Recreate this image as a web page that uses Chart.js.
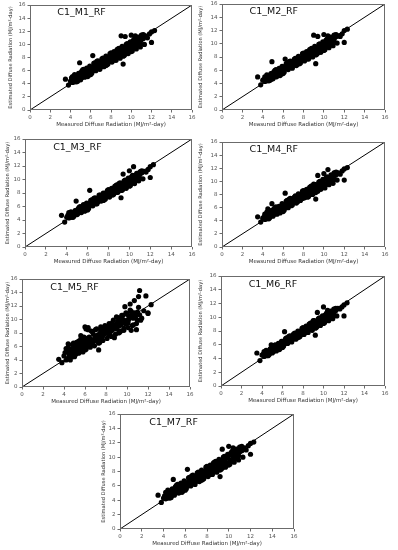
<!DOCTYPE html>
<html>
<head>
<meta charset="utf-8">
<script src="https://cdn.jsdelivr.net/npm/chart.js@4.4.0/dist/chart.umd.min.js"></script>
<style>
  body { margin: 0; background: #fff; width: 398px; height: 550px; position: relative; overflow: hidden; }
  canvas { position: absolute; }
</style>
</head>
<body>
<script>
// measured diffuse radiation (shared x values for every panel)
const measured = [
  3.5, 3.8, 4.0, 4.1, 4.2, 4.3, 4.4, 4.4, 4.5, 4.6,
  4.7, 4.8, 4.9, 4.9, 5.0, 5.1, 5.2, 5.2, 5.3, 5.4,
  5.5, 5.6, 5.6, 5.7, 5.8, 5.9, 6.0, 6.0, 6.1, 6.2,
  6.3, 6.3, 6.4, 6.5, 6.6, 6.7, 6.8, 6.9, 7.0, 7.1,
  7.2, 7.3, 7.4, 7.5, 7.6, 7.7, 7.8, 7.9, 8.0, 8.1,
  8.2, 8.3, 8.4, 8.5, 8.6, 8.7, 8.8, 8.9, 9.0, 9.1,
  9.2, 9.3, 9.4, 9.5, 9.6, 9.7, 9.8, 9.9, 10.0, 10.1,
  10.2, 10.3, 10.4, 10.5, 10.6, 10.7, 10.8, 10.9, 11.0, 11.1,
  11.2, 11.4, 11.6, 11.8, 12.0, 12.3, 4.5, 5.0, 5.5, 6.1,
  6.6, 7.0, 7.4, 7.9, 8.3, 8.8, 9.2, 9.6, 10.1, 10.6,
  11.0, 9.0, 9.4, 10.0, 10.4, 4.9, 6.2, 7.5, 9.2, 12.0,
  4.2, 4.6, 4.8, 5.0, 5.2, 5.4, 5.6, 5.8, 5.9, 6.1,
  6.3, 6.5, 6.7, 6.9, 7.1, 7.3, 7.5, 7.7, 7.9, 8.1,
  8.3, 8.5, 8.7, 8.9, 9.1, 9.3, 9.5, 9.7, 9.9, 10.1,
  10.3, 10.5, 10.7, 10.9, 11.1, 11.3, 4.4, 5.1, 5.7, 6.4,
  6.8, 7.2, 7.6, 8.0, 8.4, 8.8, 9.2, 9.6, 10.0, 10.4,
  10.8, 11.2, 4.7, 5.3, 6.0, 6.6, 7.4, 8.6, 9.4, 10.2
];

// estimated diffuse radiation per model
const estM1 = [
  4.7, 3.8, 4.4, 4.9, 4.2, 4.6, 5.1, 4.3, 4.8, 4.5,
  5.3, 4.7, 5.0, 5.6, 5.2, 4.9, 5.8, 5.4, 5.1, 5.9,
  5.6, 6.1, 5.4, 5.9, 6.3, 5.8, 6.5, 5.7, 6.2, 6.0,
  6.6, 6.1, 6.9, 6.4, 7.0, 6.5, 7.3, 6.7, 7.4, 6.9,
  7.6, 7.0, 7.3, 7.8, 7.2, 7.9, 7.5, 8.2, 7.7, 8.3,
  8.3, 7.8, 8.6, 8.1, 8.9, 8.4, 8.2, 9.0, 8.6, 8.8,
  9.2, 8.7, 9.4, 9.0, 9.7, 9.3, 9.9, 9.1, 10.2, 9.6,
  10.4, 9.5, 10.1, 10.6, 9.8, 10.3, 10.9, 10.2, 10.7, 11.0,
  10.9, 11.3, 11.0, 11.6, 11.9, 12.1, 4.4, 5.5, 5.3, 6.4,
  6.8, 6.6, 7.7, 7.4, 8.5, 8.0, 9.5, 8.8, 9.4, 10.0,
  11.4, 11.3, 11.2, 11.4, 11.3, 7.2, 8.3, 6.8, 7.0, 10.3,
  5.1, 4.3, 5.6, 4.6, 6.1, 5.0, 6.4, 5.3, 6.7, 5.6,
  7.1, 6.0, 7.5, 6.2, 7.8, 6.6, 8.2, 7.0, 8.6, 7.3,
  8.9, 7.6, 9.3, 7.9, 9.7, 8.3, 10.0, 8.6, 10.4, 9.0,
  10.8, 9.3, 11.1, 9.6, 11.4, 10.0, 5.4, 5.9, 5.1, 7.2,
  6.3, 7.9, 6.9, 8.7, 7.6, 9.4, 8.2, 10.1, 8.9, 10.7,
  9.8, 11.5, 4.4, 6.2, 5.4, 7.4, 6.8, 9.2, 8.5, 10.6
];
const estM2 = [
  5.0, 3.8, 4.5, 4.6, 4.3, 4.8, 4.9, 4.4, 4.6, 4.7,
  5.1, 4.6, 5.2, 5.5, 5.0, 5.1, 5.6, 5.3, 5.0, 5.7,
  5.8, 6.0, 5.5, 5.7, 6.2, 6.0, 6.4, 5.8, 6.1, 6.3,
  6.5, 6.2, 6.8, 6.6, 6.9, 6.7, 7.2, 6.8, 7.3, 7.0,
  7.4, 7.1, 7.5, 7.7, 7.3, 7.8, 7.6, 8.0, 7.8, 8.2,
  8.4, 7.9, 8.5, 8.2, 8.7, 8.5, 8.4, 8.9, 8.7, 9.0,
  9.1, 8.8, 9.3, 9.2, 9.6, 9.4, 9.8, 9.3, 10.0, 9.7,
  10.3, 9.6, 10.2, 10.5, 9.9, 10.4, 10.8, 10.3, 10.6, 11.0,
  11.1, 11.2, 11.1, 11.5, 12.0, 12.2, 4.5, 5.4, 5.4, 6.5,
  6.9, 6.7, 7.6, 7.5, 8.4, 8.1, 9.4, 8.9, 9.5, 10.1,
  11.3, 11.3, 11.1, 11.4, 11.2, 7.3, 7.7, 7.0, 7.0, 10.2,
  5.0, 4.4, 5.5, 4.7, 6.0, 5.1, 6.3, 5.4, 6.6, 5.7,
  7.0, 6.1, 7.4, 6.3, 7.7, 6.7, 8.1, 7.1, 8.5, 7.4,
  8.8, 7.7, 9.2, 8.0, 9.6, 8.4, 9.9, 8.7, 10.3, 9.1,
  10.7, 9.4, 11.0, 9.7, 11.3, 10.1, 5.3, 5.8, 5.2, 7.1,
  6.4, 7.8, 7.0, 8.6, 7.7, 9.3, 8.3, 10.0, 9.0, 10.6,
  9.9, 11.4, 4.5, 6.1, 5.5, 7.3, 6.9, 9.1, 8.6, 10.5
];
const estM3 = [
  4.7, 3.7, 4.4, 4.7, 4.3, 4.9, 4.6, 4.4, 4.8, 4.5,
  5.0, 4.8, 5.1, 5.4, 5.2, 5.0, 5.7, 5.2, 5.3, 5.8,
  5.7, 6.0, 5.5, 6.0, 6.2, 5.9, 6.3, 5.8, 6.4, 6.1,
  6.6, 6.3, 6.8, 6.5, 7.1, 6.6, 7.2, 6.8, 7.3, 7.1,
  7.5, 7.1, 7.4, 7.7, 7.3, 8.0, 7.6, 8.1, 7.8, 8.3,
  8.2, 7.9, 8.5, 8.2, 8.8, 8.6, 8.3, 9.1, 8.8, 9.0,
  9.3, 8.9, 9.5, 9.1, 9.6, 9.4, 9.8, 9.3, 10.1, 9.7,
  10.2, 9.6, 10.3, 10.6, 9.9, 10.4, 10.8, 10.2, 10.7, 11.0,
  11.0, 11.2, 11.1, 11.5, 11.9, 12.2, 4.5, 5.3, 5.4, 6.3,
  6.9, 6.7, 7.7, 7.5, 8.3, 8.1, 9.4, 8.9, 9.4, 9.9,
  11.1, 9.4, 10.8, 11.3, 11.9, 6.8, 8.4, 6.9, 7.3, 10.3,
  5.1, 4.4, 5.4, 4.8, 5.9, 5.1, 6.3, 5.4, 6.5, 5.7,
  6.9, 6.1, 7.3, 6.4, 7.7, 6.8, 8.0, 7.1, 8.4, 7.4,
  8.7, 7.8, 9.1, 8.1, 9.5, 8.4, 9.8, 8.7, 10.2, 9.1,
  10.6, 9.4, 10.9, 9.8, 11.2, 10.1, 5.2, 5.7, 5.3, 7.0,
  6.4, 7.7, 7.0, 8.5, 7.7, 9.2, 8.4, 9.9, 9.0, 10.5,
  9.9, 11.3, 4.6, 6.0, 5.5, 7.2, 6.9, 9.0, 8.6, 10.4
];
const estM4 = [
  4.6, 3.8, 4.4, 4.5, 4.2, 4.8, 4.7, 4.3, 4.9, 4.6,
  5.2, 4.8, 5.0, 5.6, 5.3, 5.0, 5.7, 5.4, 5.1, 5.8,
  5.7, 6.1, 5.5, 5.9, 6.2, 5.9, 6.4, 5.8, 6.3, 6.0,
  6.7, 6.2, 6.9, 6.5, 7.0, 6.6, 7.3, 6.8, 7.4, 7.0,
  7.5, 7.1, 7.4, 7.8, 7.3, 7.9, 7.6, 8.2, 7.8, 8.3,
  8.4, 7.9, 8.6, 8.2, 8.9, 8.5, 8.3, 9.0, 8.7, 8.9,
  9.3, 8.8, 9.4, 9.1, 9.7, 9.4, 9.9, 9.2, 10.2, 9.6,
  10.4, 9.6, 10.2, 10.6, 9.9, 10.3, 10.9, 10.2, 10.7, 11.1,
  11.0, 11.3, 11.1, 11.6, 11.9, 12.1, 5.8, 5.4, 5.3, 6.4,
  6.8, 6.7, 7.7, 7.4, 8.5, 8.0, 9.5, 8.8, 9.4, 10.0,
  11.3, 9.6, 10.9, 11.2, 11.8, 6.6, 8.2, 7.0, 7.3, 10.2,
  5.0, 4.3, 5.5, 4.7, 6.0, 5.0, 6.2, 5.4, 6.6, 5.6,
  7.0, 6.0, 7.4, 6.4, 7.6, 6.7, 8.1, 7.1, 8.5, 7.5,
  8.8, 7.7, 9.2, 8.0, 9.5, 8.5, 9.9, 8.8, 10.3, 9.0,
  10.7, 9.5, 11.0, 9.7, 11.3, 10.2, 5.3, 5.8, 5.2, 7.1,
  6.3, 7.8, 7.1, 8.6, 7.6, 9.3, 8.3, 10.0, 9.1, 10.6,
  9.8, 11.4, 4.5, 6.1, 5.4, 7.3, 6.9, 9.1, 8.5, 10.5
];
const estM5 = [
  4.1, 3.6, 4.6, 5.1, 4.0, 5.4, 6.4, 4.3, 5.0, 4.4,
  5.6, 4.5, 6.5, 5.2, 5.9, 4.8, 6.2, 5.0, 5.7, 6.8,
  5.3, 6.4, 7.6, 5.8, 6.9, 6.0, 8.9, 5.5, 8.6, 6.6,
  8.8, 6.2, 7.4, 6.9, 8.3, 6.5, 7.8, 7.1, 8.5, 6.8,
  7.5, 5.5, 7.9, 7.2, 8.1, 7.6, 8.6, 7.9, 9.0, 8.4,
  8.7, 8.1, 9.0, 8.4, 9.5, 8.8, 7.3, 9.2, 8.6, 9.6,
  9.1, 10.2, 8.3, 9.4, 10.0, 8.7, 11.9, 9.3, 10.8, 9.8,
  10.5, 12.3, 8.4, 10.9, 9.2, 12.8, 10.3, 8.5, 11.1, 13.4,
  14.3, 10.2, 11.3, 13.5, 10.9, 12.2, 4.8, 5.4, 6.0, 7.2,
  7.0, 7.4, 6.6, 8.8, 7.7, 9.1, 8.0, 10.6, 9.5, 10.2,
  9.9, 10.4, 9.7, 10.8, 11.2, 4.6, 6.1, 8.3, 9.6, 11.0,
  5.7, 4.0, 6.3, 4.5, 6.6, 5.0, 7.1, 5.2, 7.4, 5.6,
  8.5, 5.9, 8.2, 6.1, 8.6, 6.5, 8.9, 6.9, 9.1, 7.2,
  9.4, 7.5, 9.9, 7.8, 10.3, 8.1, 10.6, 8.4, 11.0, 8.8,
  11.4, 9.1, 11.0, 9.4, 11.8, 9.9, 5.9, 6.0, 6.2, 7.3,
  6.9, 7.7, 7.4, 8.3, 8.1, 8.9, 9.0, 9.6, 9.9, 10.4,
  10.6, 10.7, 5.2, 5.6, 6.6, 7.0, 7.3, 8.4, 9.2, 10.1
];
const estM6 = [
  4.8, 3.7, 4.5, 4.6, 4.3, 4.7, 4.9, 4.4, 4.7, 4.5,
  5.1, 4.8, 5.1, 5.5, 5.2, 5.0, 5.6, 5.3, 5.2, 5.7,
  5.8, 6.1, 5.6, 5.9, 6.1, 5.9, 6.5, 5.9, 6.3, 6.1,
  6.6, 6.3, 6.8, 6.6, 7.0, 6.7, 7.2, 6.9, 7.4, 7.1,
  7.5, 7.2, 7.4, 7.7, 7.4, 7.9, 7.7, 8.1, 7.9, 8.2,
  8.3, 8.0, 8.6, 8.3, 8.8, 8.5, 8.4, 9.0, 8.7, 8.9,
  9.2, 8.9, 9.4, 9.2, 9.7, 9.5, 9.9, 9.3, 10.1, 9.7,
  10.3, 9.7, 10.2, 10.6, 10.0, 10.4, 10.8, 10.3, 10.6, 11.0,
  11.0, 11.3, 11.2, 11.5, 11.8, 12.1, 4.6, 5.5, 5.4, 6.4,
  6.9, 6.8, 7.6, 7.5, 8.4, 8.2, 9.4, 9.0, 9.5, 10.0,
  11.2, 9.5, 10.7, 11.5, 11.0, 6.0, 7.9, 7.1, 7.4, 10.2,
  5.0, 4.4, 5.4, 4.8, 5.9, 5.1, 6.2, 5.5, 6.5, 5.8,
  6.9, 6.2, 7.3, 6.4, 7.6, 6.8, 8.0, 7.2, 8.4, 7.5,
  8.7, 7.8, 9.1, 8.1, 9.5, 8.5, 9.8, 8.8, 10.2, 9.2,
  10.6, 9.5, 10.9, 9.8, 11.2, 10.2, 5.2, 5.7, 5.3, 7.0,
  6.5, 7.7, 7.1, 8.5, 7.8, 9.2, 8.4, 9.9, 9.1, 10.5,
  10.0, 11.3, 4.6, 6.0, 5.6, 7.2, 7.0, 9.0, 8.7, 10.4
];
const estM7 = [
  4.7, 3.7, 4.3, 4.6, 4.2, 4.8, 5.0, 4.3, 4.7, 4.5,
  5.2, 4.7, 5.0, 5.5, 5.1, 5.0, 5.8, 5.3, 5.1, 5.8,
  5.6, 6.1, 5.4, 5.9, 6.3, 5.8, 6.4, 5.7, 6.2, 6.0,
  6.6, 6.2, 6.9, 6.5, 7.0, 6.6, 7.3, 6.7, 7.4, 7.0,
  7.6, 7.1, 7.4, 7.8, 7.2, 7.9, 7.5, 8.2, 7.7, 8.3,
  8.3, 7.8, 8.6, 8.1, 8.9, 8.4, 8.2, 9.0, 8.6, 8.8,
  9.2, 8.7, 9.4, 9.0, 9.7, 9.3, 9.9, 9.1, 10.2, 9.6,
  10.4, 9.5, 10.1, 10.6, 9.8, 10.3, 10.9, 10.2, 10.7, 11.0,
  10.9, 11.3, 11.0, 11.6, 11.9, 12.1, 4.4, 5.5, 5.3, 6.4,
  6.8, 6.6, 7.7, 7.4, 8.5, 8.0, 9.5, 8.8, 9.4, 10.0,
  11.4, 9.4, 11.1, 11.5, 11.3, 6.9, 8.3, 6.8, 7.3, 10.4,
  5.1, 4.3, 5.6, 4.7, 6.1, 5.0, 6.4, 5.3, 6.7, 5.6,
  7.1, 6.0, 7.5, 6.2, 7.8, 6.6, 8.2, 7.0, 8.6, 7.3,
  8.9, 7.6, 9.3, 7.9, 9.7, 8.3, 10.0, 8.6, 10.4, 9.0,
  10.8, 9.3, 11.1, 9.6, 11.4, 10.0, 5.4, 5.9, 5.1, 7.2,
  6.3, 7.9, 6.9, 8.7, 7.6, 9.4, 8.2, 10.1, 8.9, 10.7,
  9.8, 11.5, 4.4, 6.2, 5.4, 7.4, 6.8, 9.2, 8.5, 10.6
];

const modelNames = ['C1_M1_RF', 'C1_M2_RF', 'C1_M3_RF', 'C1_M4_RF', 'C1_M5_RF', 'C1_M6_RF', 'C1_M7_RF'];
const modelSeries = [estM1, estM2, estM3, estM4, estM5, estM6, estM7];
const axisTicks = [0, 2, 4, 6, 8, 10, 12, 14, 16];
const oneToOne = [0, 16];
const xTitle = 'Measured Diffuse Radiation (MJ/m\u00B2-day)';
const yTitle = 'Estimated Diffuse Radiation (MJ/m\u00B2-day)';

// plot-area box of each panel on the page: [left, top, right, bottom], plus where the y title sits
const boxes = [
  { area: [30, 5, 192, 110], titleX: 7 },
  { area: [222, 4, 385, 110], titleX: 197 },
  { area: [25, 139, 192, 247], titleX: 4 },
  { area: [222, 142, 385, 247], titleX: 197 },
  { area: [22, 279, 190, 387], titleX: 4 },
  { area: [221, 276, 385, 386], titleX: 197 },
  { area: [120, 414, 294, 529], titleX: 100 }
];

Chart.defaults.font.family = "'DejaVu Sans', sans-serif";

const PAD_TOP = 6, PAD_RIGHT = 7, X_AXIS_H = 19;

// frame round the plot area + model name inside it
const panelDecor = {
  id: 'panelDecor',
  afterDatasetsDraw(chart, args, opts) {
    const { ctx, chartArea: a, scales } = chart;
    ctx.save();
    ctx.strokeStyle = '#6b6b6b';
    ctx.lineWidth = 1;
    ctx.strokeRect(a.left + 0.5, a.top + 0.5, a.right - a.left - 1, a.bottom - a.top - 1);
    ctx.fillStyle = '#111';
    ctx.font = "9.5px 'DejaVu Sans', sans-serif";
    ctx.textBaseline = 'middle';
    ctx.fillText(opts.name, scales.x.getPixelForValue(2.7), scales.y.getPixelForValue(14.8));
    ctx.restore();
  }
};

function axisOpts(title, fitSize, horizontal) {
  return {
    type: 'linear',
    min: 0,
    max: 16,
    afterBuildTicks: s => { s.ticks = axisTicks.map(v => ({ value: v })); },
    afterFit: s => { if (horizontal) s.height = fitSize; else s.width = fitSize; },
    ticks: { color: '#555', font: { size: 5.5 }, padding: 2 },
    grid: { display: true, drawOnChartArea: false, drawTicks: true, tickLength: 2.5, color: '#6b6b6b' },
    border: { display: false },
    title: { display: true, text: title, color: '#333', font: { size: horizontal ? 5.5 : 5.1 }, padding: { top: 1, bottom: 1 } }
  };
}

boxes.forEach((b, i) => {
  const [x0, y0, x1, y1] = b.area;
  const left = b.titleX;
  const top = y0 - PAD_TOP;
  const cv = document.createElement('canvas');
  const w = x1 - left + PAD_RIGHT;
  const h = y1 - top + X_AXIS_H;
  cv.width = w; cv.height = h;
  cv.style.left = left + 'px';
  cv.style.top = top + 'px';
  cv.style.width = w + 'px';
  cv.style.height = h + 'px';
  document.body.appendChild(cv);

  const est = modelSeries[i];
  new Chart(cv.getContext('2d'), {
    type: 'scatter',
    data: {
      datasets: [
        {
          data: measured.map((m, k) => ({ x: m, y: est[k] })),
          backgroundColor: '#000',
          borderWidth: 0,
          pointRadius: 2.6
        },
        {
          type: 'line',
          data: oneToOne.map(v => ({ x: v, y: v })),
          borderColor: '#000',
          borderWidth: 1,
          pointRadius: 0
        }
      ]
    },
    options: {
      responsive: false,
      animation: false,
      devicePixelRatio: 1,
      layout: { padding: { top: PAD_TOP, right: PAD_RIGHT, left: 0, bottom: 0 } },
      plugins: {
        legend: { display: false },
        tooltip: { enabled: false },
        panelDecor: { name: modelNames[i] }
      },
      scales: {
        x: axisOpts(xTitle, X_AXIS_H, true),
        y: axisOpts(yTitle, x0 - left, false)
      }
    },
    plugins: [panelDecor]
  });
});
</script>
</body>
</html>
